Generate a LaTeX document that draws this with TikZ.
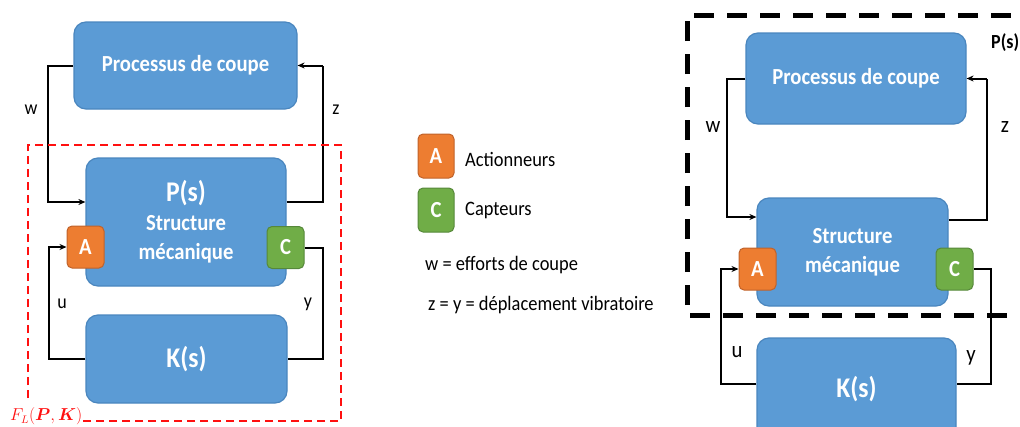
\documentclass[tikz,border=0pt]{standalone}
\usepackage{amsmath}
\usepackage{fontspec}
\setmainfont{Carlito}[FakeStretch=0.9]
\usetikzlibrary{arrows.meta}
\definecolor{boxblue}{HTML}{5B9BD5}
\definecolor{boxblueb}{HTML}{4A86BE}
\definecolor{actor}{HTML}{ED7D31}
\definecolor{actorb}{HTML}{C0622A}
\definecolor{sensor}{HTML}{70AD47}
\definecolor{sensorb}{HTML}{56883A}
\definecolor{fred}{HTML}{FF1010}
\tikzset{
  bluebox/.style={draw=boxblueb, fill=boxblue, line width=1.2pt, rounded corners=12pt,
     text=white, font=\fontsize{23}{29}\selectfont\bfseries, align=center, inner sep=0pt},
  abox/.style={draw=actorb, fill=actor, line width=1pt, rounded corners=5pt,
     text=white, font=\fontsize{23}{26}\selectfont\bfseries, minimum width=37pt, minimum height=42pt, inner sep=0pt},
  cbox/.style={abox, draw=sensorb, fill=sensor},
  sig/.style={line width=2pt, draw=black},
  sigarrow/.style={sig, -{Stealth[length=7pt,width=6pt]}},
  lab/.style={font=\fontsize{20}{23}\selectfont, inner sep=0pt},
  labR/.style={font=\fontsize{23}{26}\selectfont, inner sep=0pt},
  legtext/.style={font=\fontsize{20.5}{24}\selectfont, inner sep=0pt, anchor=west},
}
\begin{document}
\begin{tikzpicture}[x=1pt,y=-1pt]
\useasboundingbox (0,0) rectangle (1020,426);
\begin{scope}
\clip (0,0) rectangle (1020,426);
% ---------- left diagram ----------
\node[bluebox, minimum width=223pt, minimum height=87pt] (proc1) at (185.5,65.5) {Processus de coupe};
\node[bluebox, minimum width=200pt, minimum height=128pt] (ps1) at (186,222)
  {{\fontsize{28.5}{29}\selectfont P(s)}\\[0pt]Structure\\mécanique};
\node[bluebox, minimum width=201pt, minimum height=88pt, font=\fontsize{28.5}{30}\selectfont\bfseries] (ks1) at (186.5,359) {K(s)};
\node[abox] (a1) at (85.5,247) {A};
\node[cbox] (c1) at (285.5,247.5) {C};

\draw[sigarrow] (proc1.west) -- ++(-25,0) |- ([yshift=20pt]ps1.west);
\draw[sig] ([yshift=20pt]ps1.east) -| ([xshift=25pt]proc1.east);
\draw[sigarrow] ([xshift=25pt]proc1.east) -- (proc1.east);
\draw[sigarrow] (ks1.west) -- ++(-36,0) |- (a1.west);
\draw[sig] (c1.east) -- ++(18,0) |- (ks1.east);

\node[lab] (lw1) at (31,110) {w};
\node[lab] (lz1) at (336,110) {z};
\node[lab] (lu1) at (62,304) {u};
\node[lab] (ly1) at (308,304) {y};

\draw[fred, line width=2pt, dash pattern=on 8pt off 5pt]
  (28,398) -- (28,145) -- (341,145) -- (341,421) -- (80,421);
\node[text=fred, anchor=south west, inner sep=0pt, font=\fontsize{16}{19}\selectfont] (fl) at (10,425)
  {$F_L(\boldsymbol{P},\boldsymbol{K})$};

% ---------- legend ----------
\node[abox, minimum width=36pt, minimum height=44pt] (la) at (436,156) {A};
\node[cbox, minimum width=36pt, minimum height=44pt] (lc) at (436,210) {C};
\node[legtext] (lat) at (465,159) {Actionneurs};
\node[legtext] (lct) at (465,210) {Capteurs};
\node[legtext] (lwt) at (425,265) {w = efforts de coupe};
\node[legtext] (lzt) at (428,305) {z = y = déplacement vibratoire};

% ---------- right diagram ----------
\node[bluebox, minimum width=220pt, minimum height=91pt] (proc2) at (856,78.5) {Processus de coupe};
\node[bluebox, minimum width=191pt, minimum height=108pt] (st2) at (852.5,252) {Structure\\mécanique};
\node[bluebox, minimum width=199pt, minimum height=102pt, font=\fontsize{28.5}{30}\selectfont\bfseries] (ks2) at (856.5,389) {K(s)};
\node[abox] (a2) at (757.5,269) {A};
\node[cbox] (c2) at (954.5,269) {C};

\draw[sigarrow] (proc2.west) -- ++(-18,0) |- ([yshift=35pt]st2.west);
\draw[sig] ([yshift=32pt]st2.east) -| ([xshift=20pt]proc2.east);
\draw[sigarrow] ([xshift=20pt]proc2.east) -- (proc2.east);
\draw[sigarrow] ([yshift=5pt]ks2.west) -- ++(-35,0) |- (a2.west);
\draw[sig] (c2.east) -- ++(17,0) |- ([yshift=5pt]ks2.east);

\node[labR] (lw2) at (713,127) {w};
\node[labR] (lz2) at (1005,127) {z};
\node[labR] (lu2) at (737,352) {u};
\node[labR] (ly2) at (971,358) {y};

\draw[black, line width=5pt, dash pattern=on 20pt off 13pt]
  (1040,315) -- (687,315) -- (687,15) -- (1040,15);
\node[anchor=west, inner sep=0pt, font=\fontsize{20}{22}\selectfont\bfseries] (pslab) at (991,43) {P(s)};
\end{scope}
\end{tikzpicture}
\end{document}
